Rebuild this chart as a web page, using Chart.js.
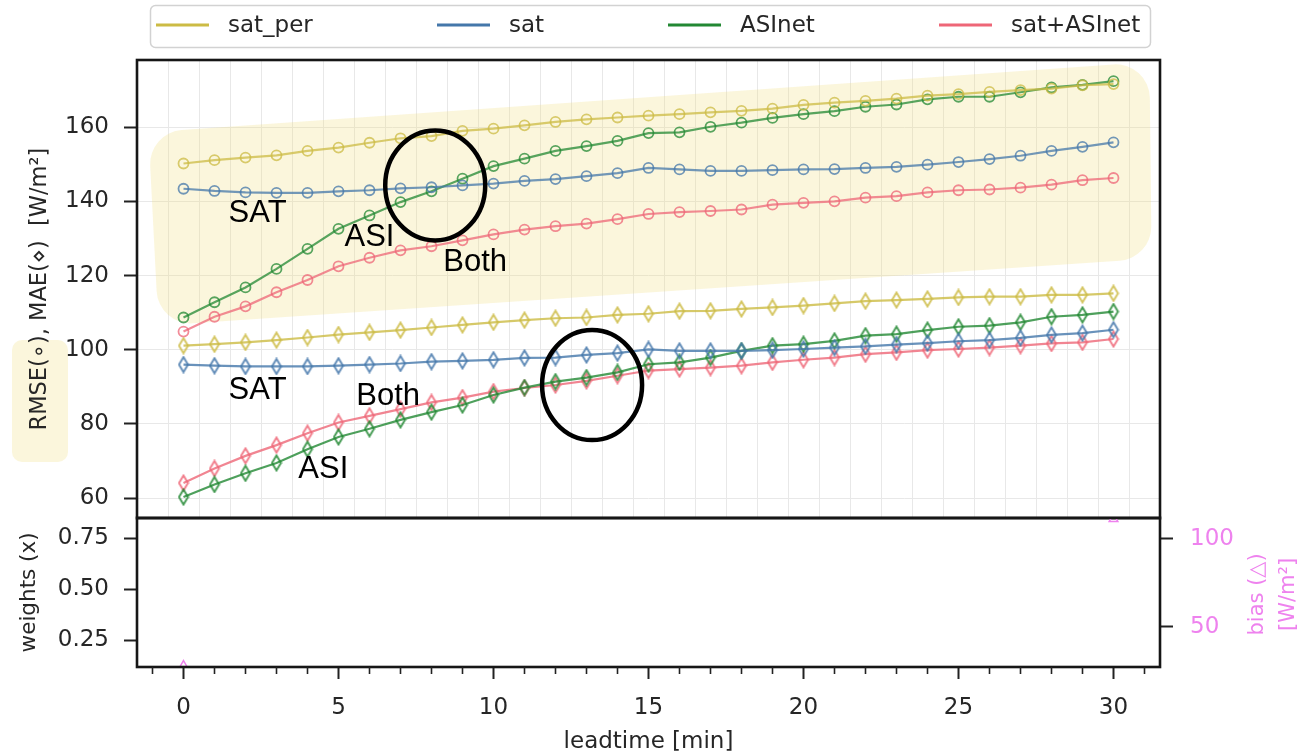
<!DOCTYPE html>
<html>
<head>
<meta charset="utf-8">
<script src="https://cdn.jsdelivr.net/npm/chart.js@4/dist/chart.umd.min.js"></script>
<style>
html, body { margin: 0; padding: 0; background: #fff; }
#wrap { position: relative; width: 1315px; height: 756px; overflow: hidden; }
#top { position: absolute; left: 0; top: 0; }
#bot { position: absolute; left: 0; top: 487px; }
</style>
</head>
<body>
<div id="wrap">
  <canvas id="top" width="1315" height="547"></canvas>
  <canvas id="bot" width="1315" height="269"></canvas>
</div>
<script>
// leadtime in minutes
var leadtime = [0,1,2,3,4,5,6,7,8,9,10,11,12,13,14,15,16,17,18,19,20,21,22,23,24,25,26,27,28,29,30];

// RMSE (circles)
var rmseSatPer = [150.2,151.1,151.8,152.4,153.6,154.5,155.8,157.0,157.6,159.0,159.6,160.5,161.4,162.1,162.6,163.1,163.5,164.0,164.4,165.0,166.0,166.6,167.1,167.7,168.5,168.9,169.5,170.0,170.4,171.3,171.6];
var rmseSat = [143.4,142.8,142.4,142.3,142.3,142.7,143.0,143.5,143.8,144.3,144.8,145.5,146.0,146.8,147.6,149.0,148.6,148.2,148.2,148.4,148.6,148.7,149.0,149.3,149.9,150.6,151.4,152.3,153.6,154.7,155.9];
var rmseAsi = [108.7,112.8,116.8,121.8,127.2,132.6,136.2,139.8,142.7,146.1,149.5,151.5,153.6,154.9,156.3,158.4,158.6,160.1,161.2,162.5,163.5,164.3,165.5,166.1,167.5,168.2,168.2,169.4,170.7,171.4,172.4];
var rmseBoth = [104.9,108.9,111.7,115.5,118.8,122.5,124.8,126.8,127.9,129.5,131.1,132.4,133.3,134.0,135.2,136.6,137.1,137.4,137.8,139.1,139.6,140.0,141.0,141.4,142.4,143.0,143.2,143.7,144.5,145.7,146.3];

// MAE (diamonds)
var maeSatPer = [101.1,101.5,102.0,102.6,103.3,104.1,104.7,105.3,106.0,106.7,107.4,108.0,108.5,108.7,109.4,109.7,110.4,110.5,111.0,111.4,111.9,112.5,113.1,113.4,113.7,114.1,114.3,114.3,114.8,114.8,115.2];
var maeSat = [96.0,95.7,95.5,95.5,95.5,95.7,96.0,96.3,96.8,97.0,97.3,97.8,97.9,98.6,99.1,100.1,99.7,99.7,99.7,99.9,100.2,100.6,100.9,101.4,101.8,102.3,102.6,103.2,104.0,104.5,105.4];
var maeAsi = [60.3,63.7,66.7,69.5,73.2,76.5,78.7,81.1,83.2,85.1,87.8,89.8,91.4,92.5,93.9,96.1,96.6,97.9,99.7,101.1,101.5,102.4,103.8,104.2,105.3,106.2,106.5,107.4,108.9,109.4,110.3];
var maeBoth = [64.1,68.0,71.4,74.3,77.5,80.4,82.2,84.0,85.8,87.1,88.7,89.7,90.5,91.6,93.0,94.4,94.8,95.2,95.7,96.6,97.3,97.9,98.8,99.3,99.9,100.2,100.6,101.1,101.7,102.0,102.9];

// bias markers that peek in at the panel edges
var biasLead = [0, 30];
var biasVals = [28.0, 111.3];

var models = ["sat_per", "sat", "ASInet", "sat+ASInet"];
var colors = ["#ccbb44", "#4477aa", "#228833", "#ee6677"];
var yTicksTop = [60, 180, 20];

// hand annotations (data units)
var notes = [
    { text: "SAT", x: 2.39, y: 136.8 },
    { text: "ASI", x: 6.0, y: 130.3 },
    { text: "Both", x: 9.41, y: 123.5 },
    { text: "SAT", x: 2.39, y: 88.9 },
    { text: "Both", x: 6.6, y: 87.4 },
    { text: "ASI", x: 4.51, y: 67.8 }
];
var rings = [{ x: 8.12, y: 144.3 }, { x: 13.18, y: 90.5 }];
var band = [{ x: -1.13, y: 158.6 }, { x: 31.16, y: 177.6 }, { x: 31.23, y: 124.6 }, { x: -0.81, y: 106.5 }];

Chart.defaults.font.family = '"DejaVu Sans", sans-serif';
Chart.defaults.color = "#262626";

function alpha(hex, a) {
    var n = parseInt(hex.slice(1), 16);
    return "rgba(" + (n >> 16) + "," + ((n >> 8) & 255) + "," + (n & 255) + "," + a + ")";
}

function diamond(color) { // thin diamond marker
    var c = document.createElement("canvas");
    c.width = 12; c.height = 18;
    var g = c.getContext("2d");
    g.strokeStyle = color;
    g.lineWidth = 1.9;
    g.beginPath();
    g.moveTo(6, 1.5); g.lineTo(10.5, 9); g.lineTo(6, 16.5); g.lineTo(1.5, 9);
    g.closePath();
    g.stroke();
    return c;
}

function pts(vals) {
    return leadtime.map(function (t, i) { return { x: t, y: vals[i] }; });
}

var rmseSets = [rmseSatPer, rmseSat, rmseAsi, rmseBoth];
var maeSets = [maeSatPer, maeSat, maeAsi, maeBoth];
var datasets = [];
for (var i = 0; i < 4; i++) {
    datasets.push({
        label: models[i] + " RMSE",
        data: pts(rmseSets[i]),
        borderColor: alpha(colors[i], 0.75),
        borderWidth: 2.2,
        pointStyle: "circle",
        pointRadius: 5,
        pointBorderWidth: 1.8,
        pointBorderColor: alpha(colors[i], 0.75),
        pointBackgroundColor: "rgba(0,0,0,0)"
    });
    datasets.push({
        label: models[i] + " MAE",
        data: pts(maeSets[i]),
        borderColor: alpha(colors[i], 0.8),
        borderWidth: 2.2,
        pointStyle: diamond(alpha(colors[i], 0.85)),
        pointRadius: 6
    });
}

var bandFill = "rgba(240,222,120,0.26)";

function roundPoly(ctx, p, r) {
    var n = p.length;
    ctx.beginPath();
    ctx.moveTo((p[n - 1].x + p[0].x) / 2, (p[n - 1].y + p[0].y) / 2);
    for (var i = 0; i < n; i++) {
        var a = p[i], b = p[(i + 1) % n];
        ctx.arcTo(a.x, a.y, b.x, b.y, r);
    }
    ctx.closePath();
}

function frame(chart) {
    var a = chart.chartArea, ctx = chart.ctx;
    ctx.save();
    ctx.strokeStyle = "#161616";
    ctx.lineWidth = 2.6;
    ctx.strokeRect(a.left, a.top, a.right - a.left, a.bottom - a.top);
    ctx.restore();
}

var topDecor = {
    id: "topDecor",
    beforeDraw: function (chart) { // shaded box behind "RMSE(∘)"
        var ctx = chart.ctx;
        ctx.save();
        ctx.fillStyle = bandFill;
        ctx.beginPath();
        ctx.roundRect(12, 340, 56, 122, 10);
        ctx.fill();
        ctx.restore();
    },
    beforeDatasetsDraw: function (chart) {
        var ctx = chart.ctx, sx = chart.scales.x, sy = chart.scales.y;
        var p = band.map(function (b) { return { x: sx.getPixelForValue(b.x), y: sy.getPixelForValue(b.y) }; });
        ctx.save();
        ctx.fillStyle = bandFill;
        roundPoly(ctx, p, 34);
        ctx.fill();
        ctx.restore();
    },
    afterDatasetsDraw: function (chart) {
        var ctx = chart.ctx, sx = chart.scales.x, sy = chart.scales.y;
        ctx.save();
        ctx.strokeStyle = "#000";
        ctx.lineWidth = 4.5;
        rings.forEach(function (r) {
            ctx.beginPath();
            ctx.ellipse(sx.getPixelForValue(r.x), sy.getPixelForValue(r.y), 50, 55, 0, 0, Math.PI * 2);
            ctx.stroke();
        });
        ctx.fillStyle = "#000";
        ctx.font = '31px "Liberation Sans", Arial, sans-serif';
        ctx.textAlign = "center";
        ctx.textBaseline = "middle";
        notes.forEach(function (n) {
            ctx.fillText(n.text, sx.getPixelForValue(n.x), sy.getPixelForValue(n.y));
        });
        ctx.restore();
        frame(chart);
    },
    afterDraw: function (chart) { // legend box
        var ctx = chart.ctx;
        var starts = [156, 437, 668, 939];
        ctx.save();
        ctx.fillStyle = "#fff";
        ctx.strokeStyle = "#d2d2d2";
        ctx.lineWidth = 1.5;
        ctx.beginPath();
        ctx.roundRect(150.5, 5.5, 1000, 42, 5);
        ctx.fill();
        ctx.stroke();
        ctx.font = '23px "DejaVu Sans", sans-serif';
        ctx.textBaseline = "middle";
        ctx.textAlign = "left";
        for (var i = 0; i < models.length; i++) {
            ctx.strokeStyle = colors[i];
            ctx.lineWidth = 3;
            ctx.beginPath();
            ctx.moveTo(starts[i], 25);
            ctx.lineTo(starts[i] + 53, 25);
            ctx.stroke();
            ctx.fillStyle = "#262626";
            ctx.fillText(models[i], starts[i] + 72, 26);
        }
        ctx.restore();
    }
};

new Chart(document.getElementById("top"), {
    type: "line",
    data: { datasets: datasets },
    options: {
        responsive: false,
        animation: false,
        layout: { padding: { top: 60, right: 155, bottom: 0, left: 0 } },
        plugins: { legend: { display: false }, tooltip: { enabled: false } },
        scales: {
            x: {
                type: "linear", min: -1.5, max: 31.5,
                ticks: { display: false, stepSize: 1, includeBounds: false },
                grid: { color: "#e8e8e8", drawTicks: false },
                border: { display: false },
                afterFit: function (s) { s.height = 0; }
            },
            y: {
                min: 54.6, max: 178.1,
                ticks: { stepSize: yTicksTop[2], includeBounds: false, padding: 15, font: { size: 23 } },
                grid: { color: "#e8e8e8", tickColor: "#222", tickLength: 13, tickWidth: 2 },
                border: { display: false },
                title: { display: true, text: "RMSE(\u2218), MAE(\u22c4)  [W/m\u00b2]", font: { size: 22.5 }, padding: { top: 27 } },
                afterFit: function (s) { s.width = 137; }
            }
        }
    },
    plugins: [topDecor]
});

var botDecor = {
    id: "botDecor",
    afterDraw: function (chart) {
        var ctx = chart.ctx, sx = chart.scales.x, a = chart.chartArea;
        frame(chart);
        ctx.save();
        ctx.strokeStyle = "#222";
        ctx.lineWidth = 1.6;
        for (var v = Math.ceil(sx.min); v <= sx.max; v++) { // minor ticks
            if (v % 5 === 0) continue;
            var px = sx.getPixelForValue(v);
            ctx.beginPath();
            ctx.moveTo(px, a.bottom);
            ctx.lineTo(px, a.bottom + 7);
            ctx.stroke();
        }
        ctx.fillStyle = "violet";
        ctx.font = '21px "DejaVu Sans", sans-serif';
        ctx.textAlign = "center";
        ctx.textBaseline = "middle";
        var cy = (a.top + a.bottom) / 2;
        ctx.translate(1258, cy + 2);
        ctx.rotate(-Math.PI / 2);
        ctx.fillText("bias (\u25b3)", 0, 0);
        ctx.fillText("[W/m\u00b2]", 0, 31);
        ctx.restore();
    }
};

new Chart(document.getElementById("bot"), {
    type: "line",
    data: {
        datasets: [{
            label: "bias",
            yAxisID: "yb",
            data: biasLead.map(function (t, i) { return { x: t, y: biasVals[i] }; }),
            showLine: false,
            pointStyle: "triangle",
            pointRadius: 5,
            pointBorderColor: "violet",
            pointBackgroundColor: "rgba(0,0,0,0)",
            pointBorderWidth: 1.5,
            clip: 0
        }]
    },
    options: {
        responsive: false,
        animation: false,
        layout: { padding: { top: 0, right: 0, bottom: 0, left: 0 } },
        plugins: { legend: { display: false }, tooltip: { enabled: false } },
        scales: {
            x: {
                type: "linear", min: -1.5, max: 31.5,
                ticks: { stepSize: 5, includeBounds: false, autoSkip: false, maxRotation: 0, padding: 15, font: { size: 23 } },
                grid: { color: "rgba(0,0,0,0)", tickColor: "#222", tickLength: 12, tickWidth: 2 },
                border: { display: false },
                title: { display: true, text: "leadtime [min]", font: { size: 23 }, padding: { top: 0, bottom: 0 } },
                afterFit: function (s) { s.height = 89; }
            },
            y: {
                position: "left",
                min: 0.119, max: 0.849,
                ticks: { stepSize: 0.25, includeBounds: false, padding: 15, font: { size: 23 },
                    callback: function (v) { return v.toFixed(2); } },
                grid: { color: "rgba(0,0,0,0)", tickColor: "#222", tickLength: 13, tickWidth: 2 },
                border: { display: false },
                title: { display: true, text: "weights (x)", font: { size: 21.5 }, padding: { top: 17 } },
                afterFit: function (s) { s.width = 137; }
            },
            yb: {
                position: "right",
                min: 27.2, max: 112,
                ticks: { stepSize: 50, includeBounds: false, padding: 17, color: "violet", font: { size: 23 } },
                grid: { color: "rgba(0,0,0,0)", tickColor: "#222", tickLength: 13, tickWidth: 2 },
                border: { display: false },
                afterFit: function (s) { s.width = 155; }
            }
        }
    },
    plugins: [botDecor]
});
</script>
</body>
</html>
